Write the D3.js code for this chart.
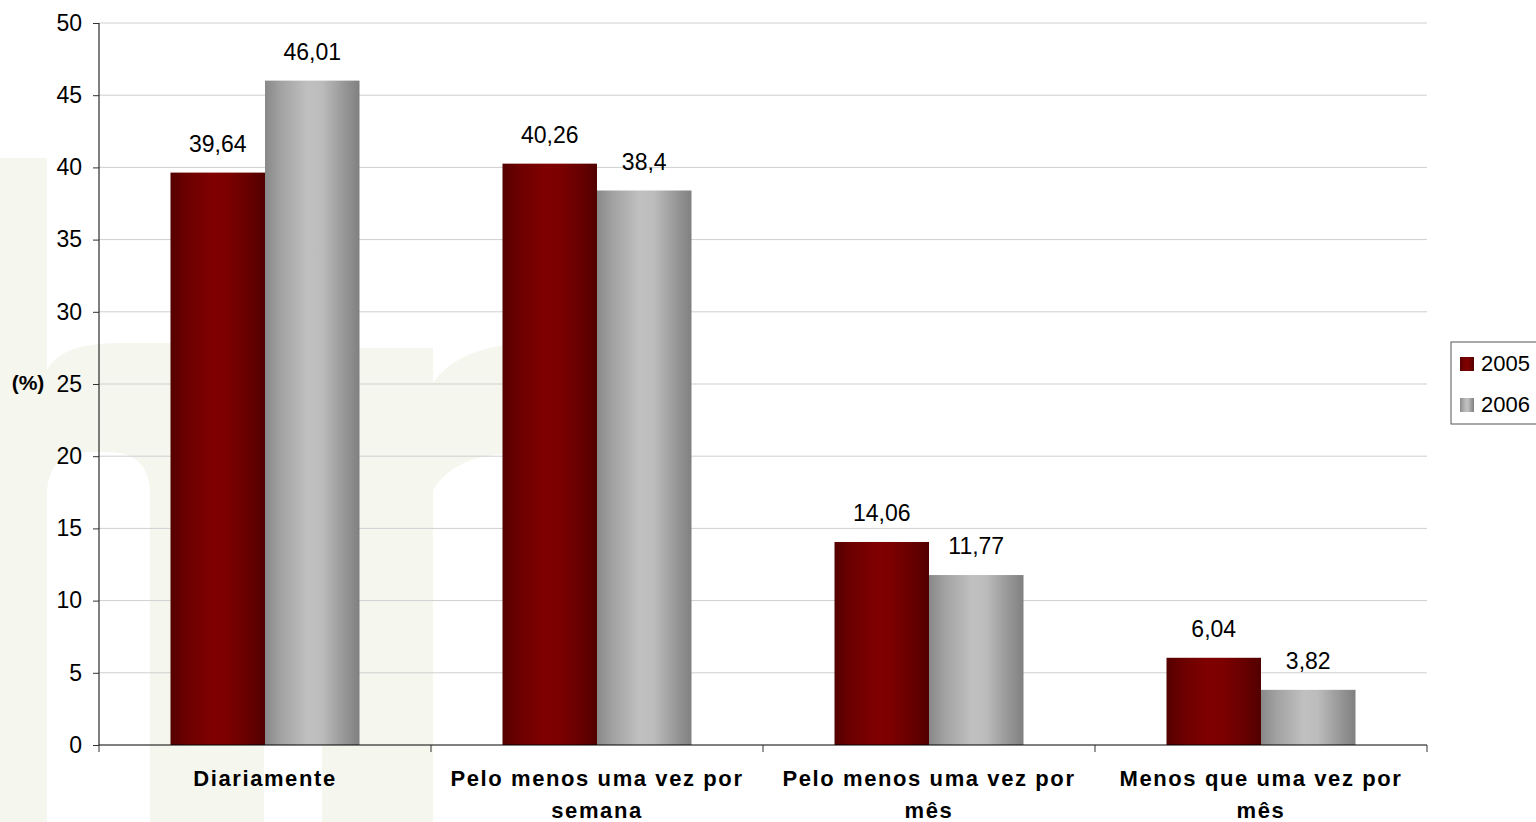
<!DOCTYPE html>
<html>
<head>
<meta charset="utf-8">
<script src="https://cdn.jsdelivr.net/npm/d3@7"></script>
<style>
  body { margin: 0; background: #fff; overflow: hidden; }
  text { font-family: "Liberation Sans", Arial, sans-serif; }
</style>
</head>
<body>
<script>
    const width = 1536;
    const height = 822;

    // data
    const categories = [
        ["Diariamente"],
        ["Pelo menos uma vez por", "semana"],
        ["Pelo menos uma vez por", "mês"],
        ["Menos que uma vez por", "mês"]
    ];
    const seriesNames = ["2005", "2006"];
    const values2005 = [39.64, 40.26, 14.06, 6.04];
    const values2006 = [46.01, 38.4, 11.77, 3.82];
    const valueLabels2005 = ["39,64", "40,26", "14,06", "6,04"];
    const valueLabels2006 = ["46,01", "38,4", "11,77", "3,82"];
    const yTicks = [0, 5, 10, 15, 20, 25, 30, 35, 40, 45, 50];

    const plot = { left: 99, right: 1427, top: 23, bottom: 745 };

    const svg = d3.select("body")
        .append("svg")
        .attr("width", width)
        .attr("height", height);

    const defs = svg.append("defs");
    const grads = [
        { id: "g2005", stops: [[0, "#540000"], [0.15, "#6a0000"], [0.45, "#800000"], [0.6, "#7c0000"], [0.85, "#640000"], [1, "#520000"]] },
        { id: "g2006", stops: [[0, "#888888"], [0.15, "#a0a0a0"], [0.45, "#c0c0c0"], [0.6, "#bcbcbc"], [0.85, "#959595"], [1, "#808080"]] }
    ];
    grads.forEach(g => {
        const lg = defs.append("linearGradient").attr("id", g.id)
            .attr("x1", 0).attr("x2", 1).attr("y1", 0).attr("y2", 0);
        g.stops.forEach(s => lg.append("stop").attr("offset", s[0]).attr("stop-color", s[1]));
    });

    // faint watermark in the background
    const wm = svg.append("g").attr("fill", "#f5f6ee");
    wm.append("rect").attr("x", -70).attr("y", 158).attr("width", 117).attr("height", 700);
    wm.append("path").attr("d", "M47,370 Q60,343 120,343 L170,343 Q264,343 264,440 L264,822 L47,822 Z");
    wm.append("path").attr("fill", "#fff")
        .attr("d", "M47,822 L47,495 Q47,452 90,452 L108,452 Q150,452 150,495 L150,822 Z");
    wm.append("rect").attr("x", 322).attr("y", 348).attr("width", 111).attr("height", 480);
    wm.append("path").attr("d", "M433,383 Q460,343 540,343 L640,343 L640,822 L433,822 Z");
    wm.append("path").attr("fill", "#fff")
        .attr("d", "M433,822 L433,490 Q455,453 520,453 L640,453 L640,822 Z");

    const y = d3.scaleLinear().domain([0, 50]).range([plot.bottom, plot.top]);
    const x0 = d3.scaleBand().domain(d3.range(categories.length))
        .range([plot.left, plot.right]).padding(0);
    const x1 = d3.scaleBand().domain(seriesNames)
        .range([71.5, x0.bandwidth() - 71.5]).padding(0);

    // gridlines
    svg.append("g")
        .selectAll("line")
        .data(yTicks.filter(d => d > 0))
        .join("line")
        .attr("x1", plot.left).attr("x2", plot.right)
        .attr("y1", d => y(d)).attr("y2", d => y(d))
        .attr("stroke", "#cfcfcf").attr("stroke-width", 1);

    // bars
    const rows = categories.map((c, i) => ({
        i,
        items: [
            { s: "2005", v: values2005[i], lab: valueLabels2005[i], grad: "g2005" },
            { s: "2006", v: values2006[i], lab: valueLabels2006[i], grad: "g2006" }
        ]
    }));
    const groups = svg.append("g")
        .selectAll("g")
        .data(rows)
        .join("g")
        .attr("transform", d => `translate(${x0(d.i)},0)`);

    groups.selectAll("rect")
        .data(d => d.items)
        .join("rect")
        .attr("x", d => x1(d.s))
        .attr("width", x1.bandwidth())
        .attr("y", d => y(d.v))
        .attr("height", d => y(0) - y(d.v))
        .attr("fill", d => `url(#${d.grad})`);

    groups.selectAll("text")
        .data(d => d.items)
        .join("text")
        .attr("x", d => x1(d.s) + x1.bandwidth() / 2)
        .attr("y", d => y(d.v) - 21)
        .attr("text-anchor", "middle")
        .attr("font-size", 23)
        .attr("fill", "#000")
        .text(d => d.lab);

    // y axis
    const yAxis = svg.append("g")
        .attr("transform", `translate(${plot.left},0)`)
        .call(d3.axisLeft(y).tickValues(yTicks).tickSize(6).tickPadding(11).tickFormat(d3.format("d")));
    yAxis.select(".domain").attr("stroke", "#000").attr("d", `M0,${plot.top}V${plot.bottom}`);
    yAxis.selectAll(".tick line").attr("stroke", "#333");
    yAxis.selectAll(".tick text").attr("font-size", 23).attr("fill", "#000")
        .attr("font-family", "Liberation Sans, Arial, sans-serif");

    // x axis
    const xAxis = svg.append("g").attr("transform", `translate(0,${plot.bottom})`);
    xAxis.append("line").attr("x1", plot.left).attr("x2", plot.right)
        .attr("y1", 0).attr("y2", 0).attr("stroke", "#000");
    xAxis.selectAll(".xt")
        .data(d3.range(categories.length + 1))
        .join("line")
        .attr("class", "xt")
        .attr("x1", d => plot.left + d * x0.step()).attr("x2", d => plot.left + d * x0.step())
        .attr("y1", 0).attr("y2", 7).attr("stroke", "#333");

    const catText = svg.append("g")
        .selectAll("text")
        .data(categories.map((c, i) => ({ c, i })))
        .join("text")
        .attr("text-anchor", "middle")
        .attr("font-size", 22)
        .attr("font-weight", "bold")
        .attr("letter-spacing", 1.6)
        .attr("fill", "#000");
    catText.selectAll("tspan")
        .data(d => d.c.map(line => ({ line, i: d.i })))
        .join("tspan")
        .attr("x", d => x0(d.i) + x0.bandwidth() / 2)
        .attr("y", (d, k) => 786 + k * 32)
        .text(d => d.line);

    // unit label
    svg.append("text")
        .attr("x", 28).attr("y", 390)
        .attr("text-anchor", "middle")
        .attr("font-size", 21)
        .attr("font-weight", "bold")
        .text("(%)");

    // legend
    const legend = svg.append("g").attr("transform", "translate(1451,342)");
    legend.append("rect").attr("width", 100).attr("height", 82)
        .attr("fill", "#fff").attr("stroke", "#555").attr("stroke-width", 1);
    seriesNames.forEach((s, k) => {
        legend.append("rect")
            .attr("x", 9).attr("y", 15 + k * 41)
            .attr("width", 14).attr("height", 14)
            .attr("fill", `url(#g${s})`);
        legend.append("text")
            .attr("x", 30).attr("y", 29 + k * 41)
            .attr("font-size", 22)
            .text(s);
    });
</script>
</body>
</html>
